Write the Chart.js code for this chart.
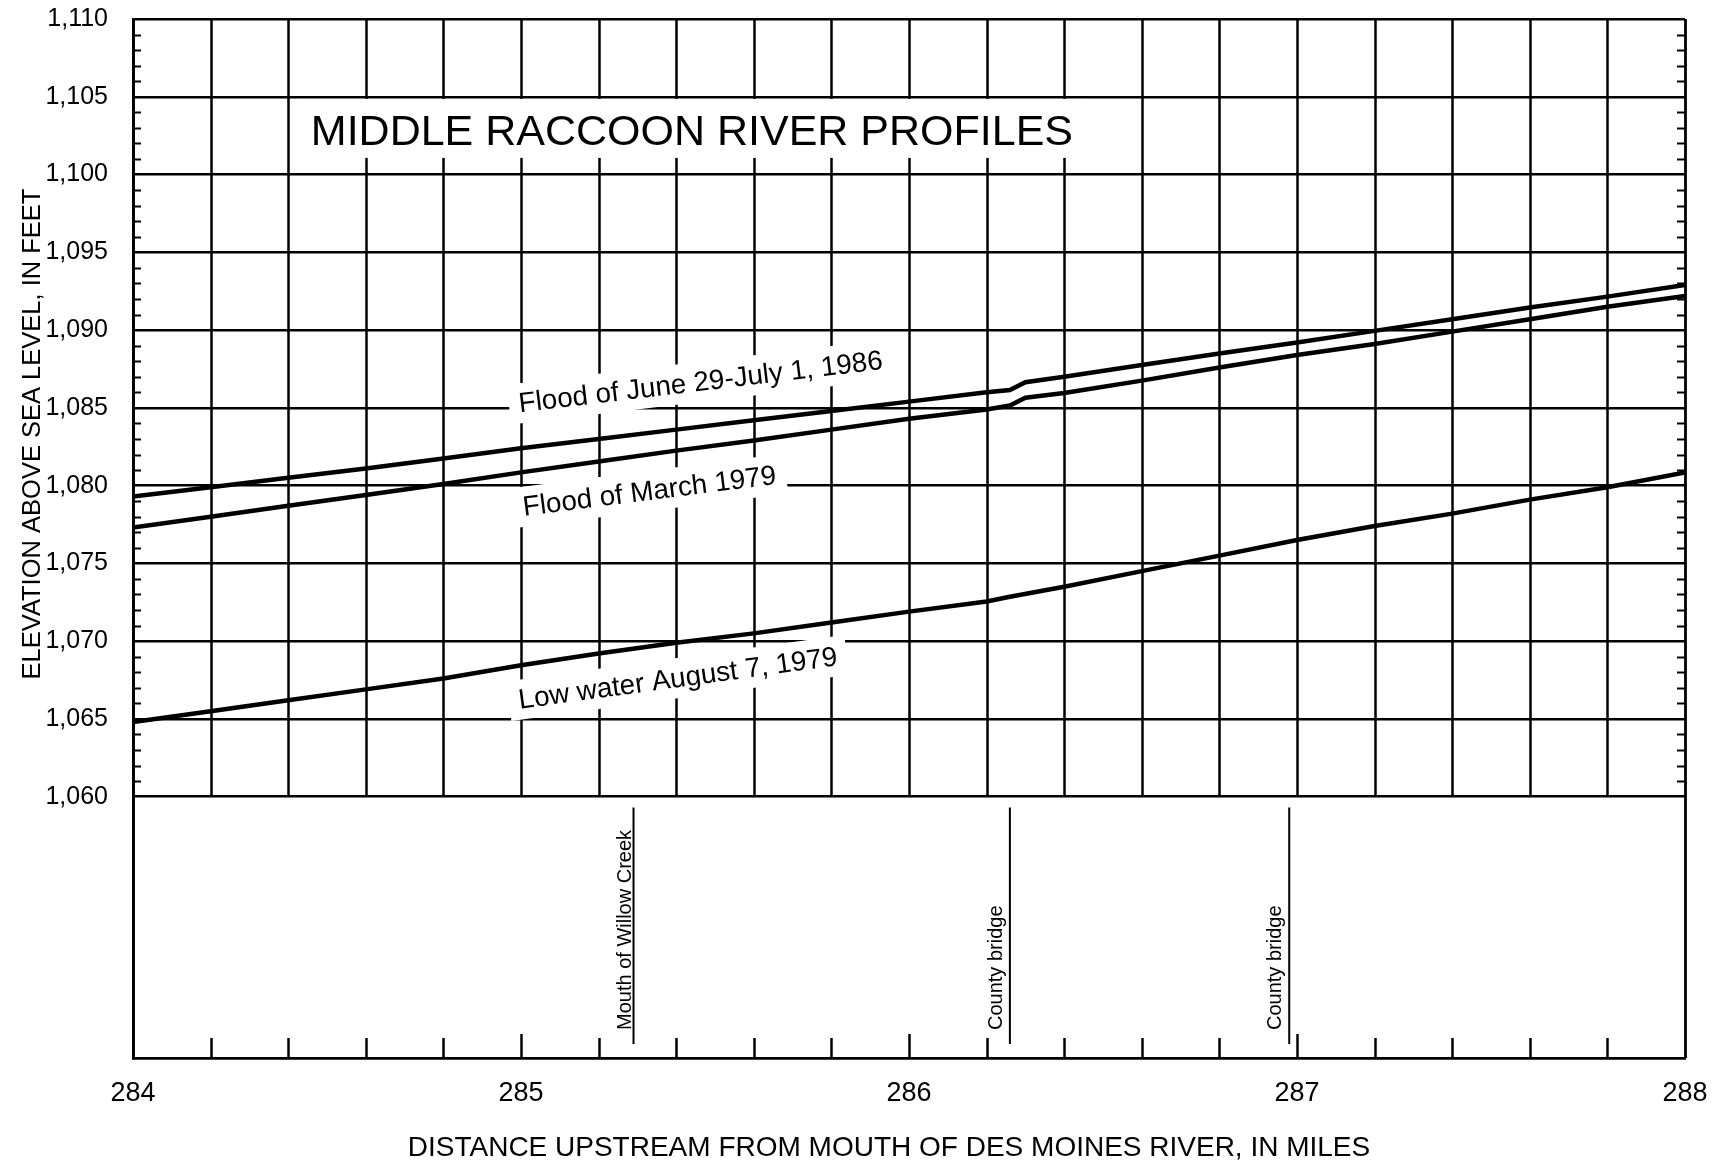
<!DOCTYPE html>
<html>
<head>
<meta charset="utf-8">
<script src="https://cdn.jsdelivr.net/npm/chart.js@4.4.0/dist/chart.umd.min.js"></script>
<style>
html,body{margin:0;padding:0;background:#fff;}
canvas{display:block;}
</style>
</head>
<body>
<canvas id="c" width="1728" height="1164" style="width:1728px;height:1164px"></canvas>
<script>
// ---------------- data ----------------
const chartTitle = 'MIDDLE RACCOON RIVER PROFILES';
const xAxisTitle = 'DISTANCE UPSTREAM FROM MOUTH OF DES MOINES RIVER, IN MILES';
const yAxisTitle = 'ELEVATION ABOVE SEA LEVEL, IN FEET';

const distanceMiles = [284.0, 284.2, 284.4, 284.6, 284.8, 285.0, 285.2, 285.4, 285.6, 285.8, 286.0, 286.2, 286.26, 286.3, 286.4, 286.6, 286.8, 287.0, 287.2, 287.4, 287.6, 287.8, 288.0];
const flood1986 = [1079.3, 1079.9, 1080.5, 1081.1, 1081.75, 1082.4, 1083.0, 1083.6, 1084.2, 1084.8, 1085.4, 1086.0, 1086.15, 1086.65, 1087.0, 1087.75, 1088.5, 1089.2, 1089.95, 1090.7, 1091.45, 1092.15, 1092.9];
const floodMarch1979 = [1077.3, 1078.0, 1078.7, 1079.4, 1080.1, 1080.85, 1081.55, 1082.25, 1082.9, 1083.6, 1084.3, 1084.9, 1085.15, 1085.65, 1085.95, 1086.75, 1087.6, 1088.4, 1089.1, 1089.9, 1090.7, 1091.5, 1092.2];
const lowWater1979 = [1064.8, 1065.5, 1066.2, 1066.9, 1067.6, 1068.45, 1069.2, 1069.9, 1070.5, 1071.2, 1071.9, 1072.55, 1072.85, null, 1073.5, 1074.5, 1075.5, 1076.5, 1077.4, 1078.2, 1079.1, 1079.9, 1080.85];
const seriesNames = ['Flood of June 29-July 1, 1986', 'Flood of March 1979', 'Low water August 7, 1979'];

const xTickLabels = [284, 285, 286, 287, 288];
const yTickLabels = [1060, 1065, 1070, 1075, 1080, 1085, 1090, 1095, 1100, 1105, 1110];

const markerMiles = [285.29, 286.26, 286.98];
const markerNames = ['Mouth of Willow Creek', 'County bridge', 'County bridge'];

// ---------------- styles / placement ----------------
const FONT = '"Liberation Sans", Arial, Helvetica, sans-serif';
const INK = '#000';
const X_MIN = 284, X_MAX = 288, Y_MIN = 1043.2, Y_MAX = 1110, Y_PANEL = 1060;
const labelPlacement = [
  {x: 284.997, y: 1084.71, angle: 6.8},
  {x: 285.008, y: 1078.06, angle: 7.2},
  {x: 284.997, y: 1065.65, angle: 7.8}
];
const markerLine = {top: 1059.3, bottom: 1044.1, textStart: 1045.0};
const markerGap = [3, 8, 8];
const titleBox = {x0: 284.426, x1: 286.455, y0: 1101.07, y1: 1104.86};

const seriesData = [flood1986, floodMarch1979, lowWater1979];

const datasets = seriesData.map((arr, i) => ({
  label: seriesNames[i],
  data: distanceMiles.map((m, j) => ({x: m, y: arr[j]})),
  borderColor: INK,
  borderWidth: 4.5,
  pointRadius: 0,
  tension: 0,
  spanGaps: true,
  fill: false
}));
markerMiles.forEach((m, i) => {
  datasets.push({
    label: markerNames[i],
    data: [{x: m, y: markerLine.top}, {x: m, y: markerLine.bottom}],
    borderColor: INK,
    borderWidth: 2,
    pointRadius: 0,
    fill: false
  });
});

function rotatedLabel(ctx, text, px, py, angleDeg, size) {
  ctx.save();
  ctx.translate(px, py);
  ctx.rotate(-angleDeg * Math.PI / 180);
  ctx.font = size + 'px ' + FONT;
  const w = ctx.measureText(text).width;
  ctx.fillStyle = '#fff';
  const cap = size * 0.72;
  ctx.fillRect(-10, -cap - 9, w + 20, cap + 9 + 11);
  ctx.fillStyle = INK;
  ctx.textAlign = 'left';
  ctx.textBaseline = 'alphabetic';
  ctx.fillText(text, 0, 0);
  ctx.restore();
}

const paperPlugin = {
  id: 'paper',
  beforeDatasetsDraw(chart) {
    const {ctx, chartArea: a, scales: {x, y}} = chart;
    ctx.save();
    ctx.strokeStyle = INK;
    ctx.lineCap = 'butt';
    const yTop = y.getPixelForValue(Y_MAX);
    const yPanel = y.getPixelForValue(Y_PANEL);
    // vertical grid lines every 0.2 mile + bottom ticks
    for (let i = 0; i <= 20; i++) {
      const v = X_MIN + i / 5;
      const px = Math.round(x.getPixelForValue(v)) + 0.5;
      ctx.lineWidth = (i === 0 || i === 20) ? 2.8 : 2.5;
      ctx.beginPath();
      ctx.moveTo(px, yTop);
      ctx.lineTo(px, (i === 0 || i === 20) ? a.bottom : yPanel);
      ctx.stroke();
      if (i > 0 && i < 20) {
        const len = (i % 5 === 0) ? 24 : 20;
        ctx.lineWidth = 2.5;
        ctx.beginPath();
        ctx.moveTo(px, a.bottom);
        ctx.lineTo(px, a.bottom - len);
        ctx.stroke();
      }
    }
    // minor 1-ft ticks on both sides
    ctx.lineWidth = 2;
    for (let v = Y_PANEL + 1; v < Y_MAX; v++) {
      if (v % 5 === 0) continue;
      const py = Math.round(y.getPixelForValue(v)) + 0.5;
      ctx.beginPath();
      ctx.moveTo(a.left, py); ctx.lineTo(a.left + 8, py);
      ctx.moveTo(a.right, py); ctx.lineTo(a.right - 8, py);
      ctx.stroke();
    }
    // title box
    const tx0 = x.getPixelForValue(titleBox.x0), tx1 = x.getPixelForValue(titleBox.x1);
    const ty0 = y.getPixelForValue(titleBox.y1), ty1 = y.getPixelForValue(titleBox.y0);
    ctx.fillStyle = '#fff';
    ctx.fillRect(tx0, ty0, tx1 - tx0, ty1 - ty0);
    ctx.fillStyle = INK;
    ctx.font = '43px ' + FONT;
    ctx.textAlign = 'center';
    ctx.textBaseline = 'alphabetic';
    ctx.fillText(chartTitle, (tx0 + tx1) / 2, (ty0 + ty1) / 2 + 17);
    // series labels
    labelPlacement.forEach((p, i) => {
      rotatedLabel(ctx, seriesNames[i], x.getPixelForValue(p.x), y.getPixelForValue(p.y), p.angle, 27.8);
    });
    // marker texts
    markerMiles.forEach((m, i) => {
      ctx.save();
      ctx.translate(x.getPixelForValue(m) - markerGap[i], y.getPixelForValue(markerLine.textStart));
      ctx.rotate(-Math.PI / 2);
      ctx.font = '20px ' + FONT;
      ctx.fillStyle = INK;
      ctx.textAlign = 'left';
      ctx.textBaseline = 'alphabetic';
      ctx.fillText(markerNames[i], 0, 0);
      ctx.restore();
    });
    ctx.restore();
  },
  afterDraw(chart) {
    const {ctx} = chart;
    ctx.save();
    ctx.fillStyle = INK;
    // y axis title
    ctx.save();
    ctx.translate(40, 434);
    ctx.rotate(-Math.PI / 2);
    ctx.font = '25.5px ' + FONT;
    ctx.textAlign = 'center';
    ctx.textBaseline = 'alphabetic';
    ctx.fillText(yAxisTitle, 0, 0);
    ctx.restore();
    // x axis title
    ctx.font = '28px ' + FONT;
    ctx.textAlign = 'center';
    ctx.textBaseline = 'alphabetic';
    ctx.fillText(xAxisTitle, 889, 1156);
    ctx.restore();
  }
};

new Chart(document.getElementById('c'), {
  type: 'line',
  data: {datasets},
  options: {
    responsive: false,
    animation: false,
    events: [],
    layout: {padding: {top: 19, right: 43, left: 0, bottom: 0}},
    plugins: {legend: {display: false}, tooltip: {enabled: false}, title: {display: false}},
    scales: {
      x: {
        type: 'linear',
        min: X_MIN,
        max: X_MAX,
        afterBuildTicks: s => { s.ticks = xTickLabels.map(v => ({value: v})); },
        afterFit: s => { s.height = 106; s.paddingLeft = 0; s.paddingRight = 0; },
        ticks: {
          padding: 19,
          color: INK,
          font: {family: FONT, size: 27},
          autoSkip: false,
          maxRotation: 0,
          callback: v => String(v)
        },
        grid: {display: false, drawTicks: false},
        border: {display: true, color: INK, width: 2.8}
      },
      y: {
        type: 'linear',
        min: Y_MIN,
        max: Y_MAX,
        afterBuildTicks: s => { s.ticks = yTickLabels.map(v => ({value: v})); },
        afterFit: s => { s.width = 133; s.paddingTop = 0; s.paddingBottom = 0; },
        ticks: {
          padding: 25,
          color: INK,
          font: {family: FONT, size: 25},
          callback: v => Number(v).toLocaleString('en-US')
        },
        grid: {color: INK, lineWidth: 2.5, drawTicks: false},
        border: {display: true, color: INK, width: 2.8}
      }
    }
  },
  plugins: [paperPlugin]
});
</script>
</body>
</html>
